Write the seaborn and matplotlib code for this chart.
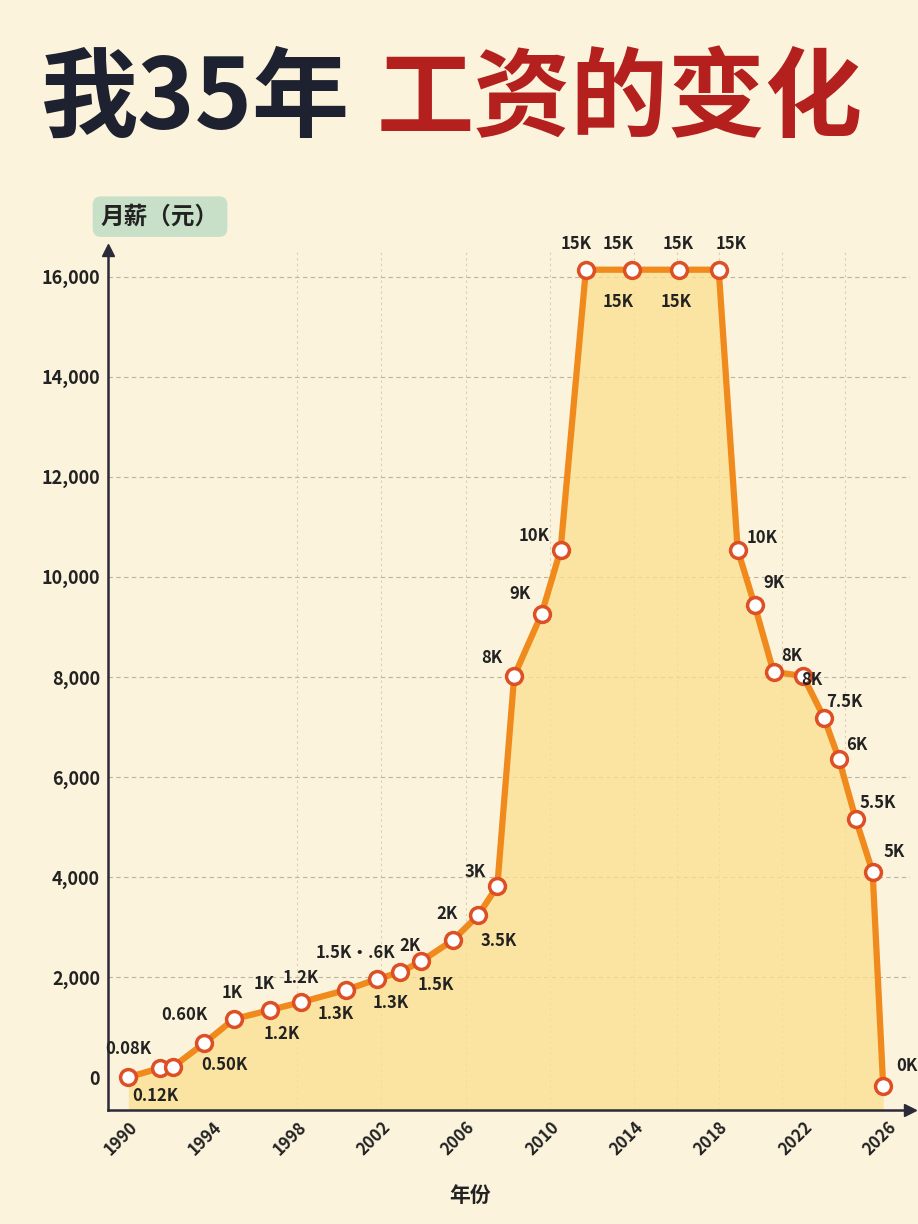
import matplotlib
matplotlib.use("Agg")
import matplotlib.pyplot as plt
import seaborn as sns
import pandas as pd

sns.set_theme(style="white")
plt.rcParams['font.family'] = ['Noto Sans CJK SC', 'DejaVu Sans']

# data
years = [1990, 1991.5, 1992.1, 1993.6, 1995.0, 1996.7, 1998.2, 2000.3, 2001.8, 2002.9, 2003.9,
         2005.4, 2006.6, 2007.5, 2008.3, 2009.6, 2010.5, 2011.7, 2013.9, 2016.1, 2018.0,
         2018.9, 2019.7, 2020.6, 2022.0, 2023.0, 2023.7, 2024.5, 2025.3, 2025.8]
salary = [0, 180, 200, 680, 1160, 1340, 1500, 1740, 1960, 2100, 2320,
          2740, 3240, 3820, 8020, 9260, 10540, 16140, 16140, 16140, 16140,
          10540, 9440, 8100, 8020, 7180, 6360, 5160, 4100, -180]
# (index, text, dx px, dy px)
labels = [(0, "0.08K", 0, 28), (1, "0.12K", -5, -28), (3, "0.60K", -20, 28), (3, "0.50K", 20, -22),
          (4, "1K", -2, 26), (5, "1K", -5, 26), (5, "1.2K", 12, -24), (6, "1.2K", 0, 24),
          (7, "1.3K", -10, -24), (8, "1.5K·.6K", -22, 26), (8, "1.3K", 14, -24),
          (9, "2K", 10, 26), (10, "1.5K", 14, -24), (11, "2K", -6, 26), (12, "3.5K", 20, -26),
          (13, "3K", -22, 14), (14, "8K", -22, 18), (15, "9K", -22, 20), (16, "10K", -26, 14),
          (17, "15K", -10, 26), (18, "15K", -14, 26), (18, "15K", -14, -32), (19, "15K", 0, 26),
          (19, "15K", -2, -32), (20, "15K", 12, 26), (21, "10K", 24, 12), (22, "9K", 20, 22),
          (23, "8K", 18, 16), (25, "8K", -12, 38), (25, "7.5K", 20, 16), (26, "6K", 18, 14),
          (27, "5.5K", 22, 16), (28, "5K", 22, 20), (29, "0K", 24, 20)]
yticks = [0, 2000, 4000, 6000, 8000, 10000, 12000, 14000, 16000]
xticks = [1990, 1994, 1998, 2002, 2006, 2010, 2014, 2018, 2022, 2026]
vlines = [1998, 2002, 2006, 2010, 2014, 2016, 2018, 2021, 2024]

df = pd.DataFrame({"year": years, "salary": salary})
bg = "#FBF3DC"
fig = plt.figure(figsize=(9.18, 12.24), dpi=100, facecolor=bg)
ax = fig.add_axes([0.118, 0.093, 0.873, 0.703], facecolor=bg)

ax.set_xlim(1989.05, 2027.06)
ax.set_ylim(-660, 16540)
for v in yticks[1:]:
    ax.axhline(v, color="#BBB59E", lw=0.8, ls=(0, (4, 3)), zorder=0)
for v in vlines:
    ax.axvline(v, color="#D9CFA8", lw=0.8, ls=(0, (2, 3)), zorder=0)

ax.fill_between(df.year, df.salary, -660, color="#FCE08E", alpha=0.75, lw=0, zorder=1)
sns.lineplot(data=df, x="year", y="salary", ax=ax, color="#F08A1C", lw=4.5, zorder=3)
sns.scatterplot(data=df, x="year", y="salary", ax=ax, s=130, color="white",
                edgecolor="#DD4F24", linewidth=2.5, zorder=4)

for i, t, dx, dy in labels:
    ax.annotate(t, (years[i], salary[i]), xytext=(dx * 0.72, dy * 0.72), textcoords="offset points",
                ha="center", va="center", fontsize=12, fontweight="bold", color="#222222", zorder=5)

ax.set_yticks(yticks)
ax.set_yticklabels([f"{v:,}" for v in yticks], fontsize=13, fontweight="bold", color="#222")
ax.set_xticks(xticks)
ax.set_xticklabels([str(v) for v in xticks], rotation=45, ha="right", fontsize=12,
                   fontweight="bold", color="#222", rotation_mode="anchor")
ax.tick_params(axis="both", length=0, pad=6)
ax.set_xlabel("")
ax.set_ylabel("")
for s in ["top", "right"]:
    ax.spines[s].set_visible(False)
for s in ["left", "bottom"]:
    ax.spines[s].set_color("#2a2a3a")
    ax.spines[s].set_linewidth(1.8)
ax.plot(1, 0, ">", transform=ax.transAxes, color="#2a2a3a", ms=9, clip_on=False)
ax.plot(0, 1, "^", transform=ax.transAxes, color="#2a2a3a", ms=9, clip_on=False)

fig.text(0.11, 0.823, "月薪（元）", fontsize=17, fontweight="bold", color="#222", va="center",
         bbox=dict(boxstyle="round,pad=0.35", fc="#C9E0C8", ec="none"))
fig.text(0.512, 0.018, "年份", fontsize=15, fontweight="bold", color="#222", ha="center")

fig.text(0.045, 0.918, "我35年", fontsize=70, fontweight="heavy", color="#1E2230", va="center")
fig.text(0.41, 0.918, "工资的变化", fontsize=70, fontweight="heavy", color="#B3201E", va="center")

fig.savefig("out.png", dpi=100, facecolor=bg)
